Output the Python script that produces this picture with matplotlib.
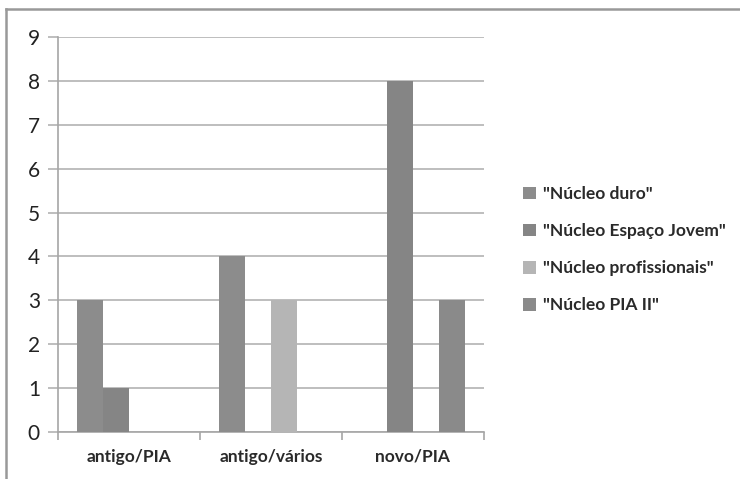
import matplotlib
matplotlib.use("Agg")
import matplotlib.pyplot as plt
from matplotlib.lines import Line2D
import numpy as np

categories = ["antigo/PIA", "antigo/vários", "novo/PIA"]
series_names = ['"Núcleo duro"', '"Núcleo Espaço Jovem"', '"Núcleo profissionais"', '"Núcleo PIA II"']
nucleo_duro = [3, 4, 0]
nucleo_espaco_jovem = [1, 0, 8]
nucleo_profissionais = [0, 3, 0]
nucleo_pia_ii = [0, 0, 3]
y_ticks = list(range(0, 10))

series = [nucleo_duro, nucleo_espaco_jovem, nucleo_profissionais, nucleo_pia_ii]
colors = ["#8c8c8c", "#858585", "#b5b5b5", "#8a8a8a"]

plt.rcParams['font.family'] = ['Lato', 'DejaVu Sans']

W, H = 740, 479
fig = plt.figure(figsize=(W / 100, H / 100), dpi=100)
ax = fig.add_axes([58 / W, 1 - 432 / H, (484 - 58) / W, (432 - 37) / H])

x = np.arange(len(categories))
w = 0.183
for i, (vals, c, name) in enumerate(zip(series, colors, series_names)):
    ax.bar(x + (i - 1.5) * w, vals, width=w, color=c, label=name, zorder=3)

ax.set_xlim(-0.5, len(categories) - 0.5)
ax.set_ylim(0, 9)
ax.set_yticks(y_ticks)
ax.set_yticklabels([str(v) for v in y_ticks], fontsize=15, color="#222222")
ax.yaxis.grid(True, color="#b3b3b3", linewidth=1.2, zorder=0)
ax.set_axisbelow(True)

ax.set_xticks(x)
ax.set_xticklabels(categories, fontsize=12.5, fontweight="bold", color="#2a2a2a")
ax.set_xticks(np.arange(-0.5, len(categories)), minor=True)
ax.tick_params(axis="x", which="major", length=0, pad=12)
ax.tick_params(axis="x", which="minor", length=6, color="#a6a6a6", width=1.2)
ax.tick_params(axis="y", length=7, color="#b3b3b3", width=1.2, pad=6)

for s in ["top", "right"]:
    ax.spines[s].set_visible(False)
for s in ["left", "bottom"]:
    ax.spines[s].set_color("#a6a6a6")
    ax.spines[s].set_linewidth(1.2)

leg = fig.legend(loc="upper left", bbox_to_anchor=(516 / W, 1 - 179 / H), frameon=False,
                 fontsize=12.5, handlelength=0.75, handleheight=0.75, handletextpad=0.4,
                 labelspacing=1.22, borderaxespad=0)
for t in leg.get_texts():
    t.set_fontweight("bold")
    t.set_color("#2a2a2a")

# outer frame (top and left)
fig.add_artist(Line2D([6 / W, 1], [1 - 9 / H, 1 - 9 / H], transform=fig.transFigure,
                      color="#999999", linewidth=1.8))
fig.add_artist(Line2D([6 / W, 6 / W], [0, 1 - 9 / H], transform=fig.transFigure,
                      color="#999999", linewidth=1.8))

fig.savefig("out.png", dpi=100)
